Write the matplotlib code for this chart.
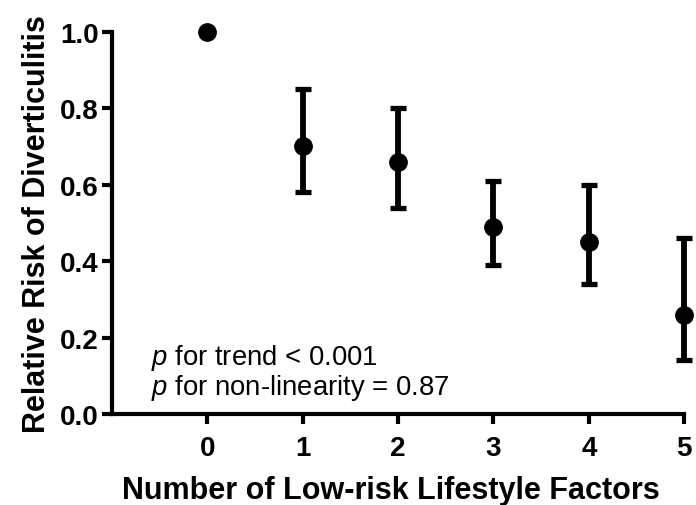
import matplotlib
matplotlib.use('Agg')
from matplotlib import pyplot as plt

plt.rcParams['font.family'] = ['Liberation Sans', 'DejaVu Sans']
plt.rcParams['mathtext.fontset'] = 'custom'
plt.rcParams['mathtext.it'] = 'Liberation Sans:italic'
plt.rcParams['mathtext.rm'] = 'Liberation Sans'

factors = [0, 1, 2, 3, 4, 5]
rr = [1.0, 0.70, 0.66, 0.49, 0.45, 0.26]
ci_low = [1.0, 0.58, 0.54, 0.39, 0.34, 0.14]
ci_high = [1.0, 0.85, 0.80, 0.61, 0.60, 0.46]
y_ticks = [0.0, 0.2, 0.4, 0.6, 0.8, 1.0]

fig = plt.figure(figsize=(6.96, 5.06), dpi=100)
ax = fig.add_axes([0.161, 0.180, 0.822, 0.755])

err = [[r - lo for r, lo in zip(rr, ci_low)], [hi - r for r, hi in zip(rr, ci_high)]]
ax.errorbar(factors, rr, yerr=err, fmt='o', color='black', ms=12.5,
            elinewidth=4.2, capsize=5.5, capthick=3.8, clip_on=False, zorder=3)

ax.set_xlim(-1, 5)
ax.set_ylim(0, 1.0)
ax.set_xticks(factors)
ax.set_yticks(y_ticks)
ax.set_yticklabels(['%.1f' % v for v in y_ticks])

for s in ['top', 'right']:
    ax.spines[s].set_visible(False)
for s in ['left', 'bottom']:
    ax.spines[s].set_linewidth(3)
    ax.spines[s].set_capstyle('projecting')
ax.tick_params(width=3, length=7.5, labelsize=20)
ax.tick_params(axis='x', pad=8)
ax.tick_params(axis='y', pad=2)
for lab in ax.get_xticklabels() + ax.get_yticklabels():
    lab.set_fontweight('bold')

ax.set_xlabel('Number of Low-risk Lifestyle Factors', fontsize=22, fontweight='bold')
ax.xaxis.set_label_coords(0.488, -0.16)
ax.set_ylabel('Relative Risk of Diverticulitis', fontsize=22, fontweight='bold', labelpad=6)

ax.text(-0.59, 0.131, '$p$ for trend < 0.001', fontsize=19.8, va='baseline')
ax.text(-0.59, 0.053, '$p$ for non-linearity = 0.87', fontsize=19.8, va='baseline')

fig.savefig('out.png', dpi=100)
